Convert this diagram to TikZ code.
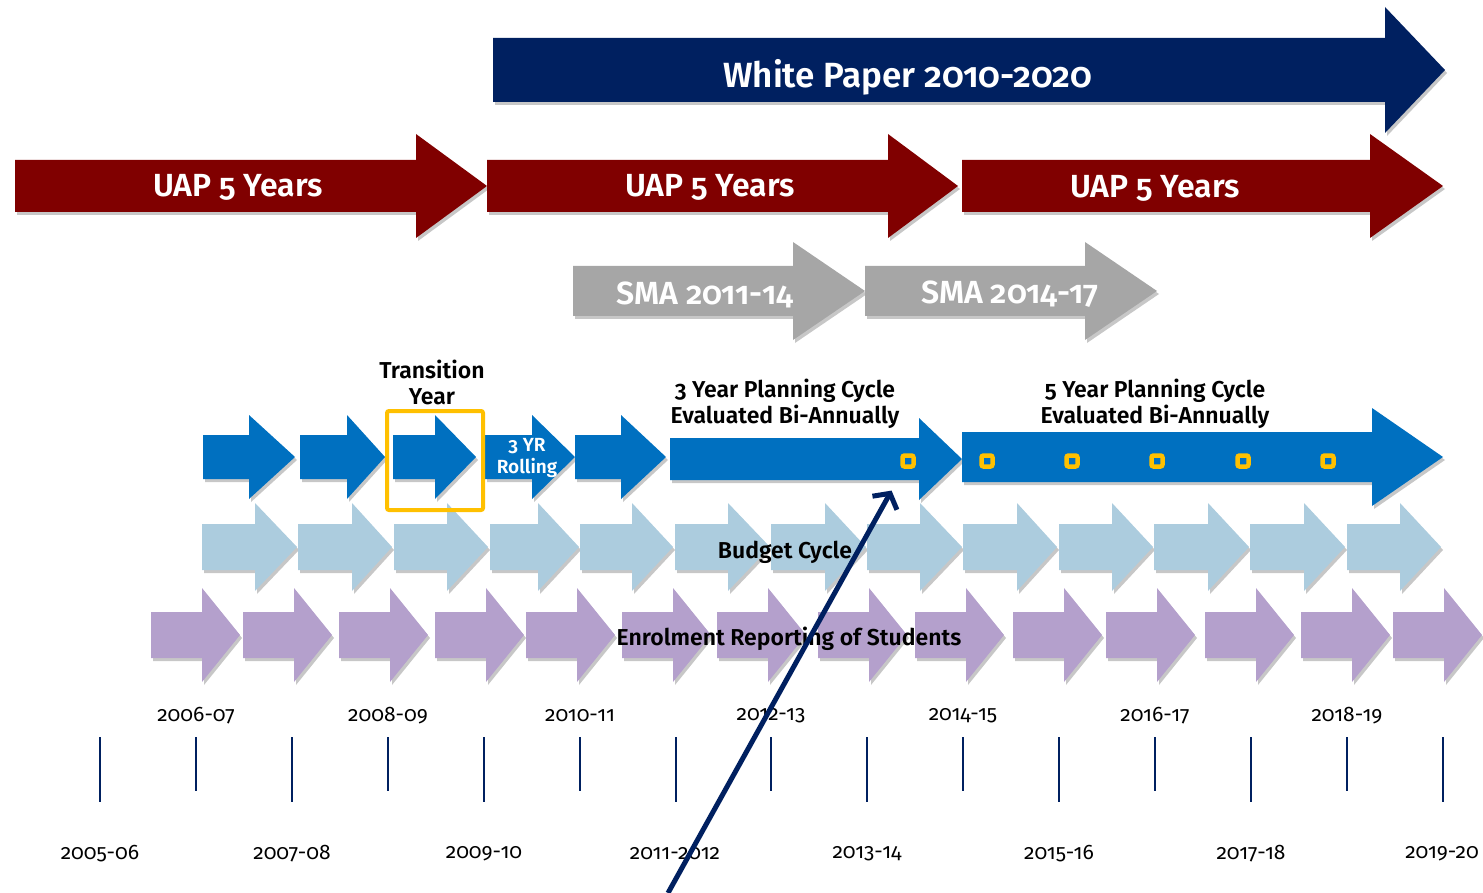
\documentclass[tikz,border=0pt]{standalone}
\usepackage{fontspec}
\setmainfont{Fira Sans}[Numbers=OldStyle, BoldFont={Fira Sans SemiBold}]
\usepackage{tikz}
\usetikzlibrary{shadows, arrows.meta}
\definecolor{navy}{RGB}{0,32,96}
\definecolor{uapred}{RGB}{128,0,0}
\definecolor{smagray}{RGB}{166,166,166}
\definecolor{planblue}{RGB}{0,112,192}
\definecolor{budgetblue}{RGB}{172,204,222}
\definecolor{enrolpurple}{RGB}{180,160,204}
\definecolor{markeryellow}{RGB}{255,192,0}
\tikzstyle{softshadow} = [drop shadow={shadow xshift=2pt, shadow yshift=-3pt, opacity=0.22, fill=black}]
\tikzstyle{whitepaper} = [fill=navy, softshadow]
\tikzstyle{uap} = [fill=uapred, softshadow]
\tikzstyle{sma} = [fill=smagray, softshadow]
\tikzstyle{plan} = [fill=planblue, softshadow]
\tikzstyle{budget} = [fill=budgetblue, softshadow]
\tikzstyle{enrol} = [fill=enrolpurple, softshadow]
\tikzstyle{arrowtext} = [text=white, font=\bfseries\fontsize{32}{36}\selectfont]
\tikzstyle{rowtext} = [text=black, font=\bfseries\fontsize{23}{26}\selectfont, align=center]
\tikzstyle{yeartext} = [text=black, font=\fontsize{21}{24}\selectfont]
\tikzstyle{tick} = [navy, line width=2.5pt]
\tikzstyle{markbox} = [draw=markeryellow, line width=4.5pt, rounded corners=2pt, minimum size=11pt, inner sep=0pt]
\tikzstyle{pointer} = [navy, line width=5pt, -{Straight Barb[length=11pt, width=28pt]}, shorten >=25pt]
% block arrow: style, left x, head base x, tip x, centre y, half shaft, half head
\newcommand{\barrow}[7]{\fill[#1] (#2,#5-#6) -- (#3,#5-#6) -- (#3,#5-#7) -- (#4,#5) -- (#3,#5+#7) -- (#3,#5+#6) -- (#2,#5+#6) -- cycle;}

\begin{document}
\begin{tikzpicture}[x=1pt, y=-1pt]
    \useasboundingbox (0,0) rectangle (1483,893);

    % white paper and UAP
    \barrow{whitepaper}{493}{1385}{1445}{70}{32}{63}
    \barrow{uap}{15}{416}{487}{186}{26}{52}
    \barrow{uap}{487}{888}{958}{186}{26}{52}
    \barrow{uap}{962}{1370}{1443}{186}{26}{52}
    \node (wp) [arrowtext, font=\bfseries\fontsize{35}{40}\selectfont] at (908,77) {White Paper 2010-2020};
    \node (uap1) [arrowtext] at (238,187) {UAP 5 Years};
    \node (uap2) [arrowtext] at (710,187) {UAP 5 Years};
    \node (uap3) [arrowtext] at (1155,188) {UAP 5 Years};

    % SMA
    \barrow{sma}{573}{793}{865}{291}{25}{49}
    \barrow{sma}{865}{1085}{1157}{291}{25}{49}
    \node (sma1) [arrowtext] at (705,295) {SMA 2011-14};
    \node (sma2) [arrowtext] at (1010,294) {SMA 2014-17};

    % budget and enrolment rows
    \foreach \x/\h/\t in {202/255/297, 298/352/392, 394/447/488, 490/538/579, 580/632/673, 675/728/770, 771/825/866, 867/920/962, 963/1017/1057, 1059/1112/1153, 1154/1208/1249, 1250/1304/1345, 1347/1400/1441}
        {\barrow{budget}{\x}{\h}{\t}{547}{23}{44}}
    \foreach \x in {151,243,339,435,526,622,717,818,915,1013,1106,1205,1301,1393}
        {\barrow{enrol}{\x}{\x+51}{\x+89}{635}{23}{47}}

    % planning row
    \foreach \x/\h/\t in {203/249/295, 300/347/385, 393/435/476, 485/532/575, 575/621/666}
        {\barrow{plan}{\x}{\h}{\t}{457}{22}{42}}
    \barrow{plan}{670}{919}{962}{459}{21}{41}
    \barrow{plan}{962}{1372}{1443}{457}{25}{49}

    \node (trans) [rowtext] at (432,382) {Transition\\Year};
    \node (roll) [rowtext, text=white, font=\bfseries\fontsize{19}{22}\selectfont] at (527,458) {3 YR\\Rolling};
    \node (plan3) [rowtext] at (785,404) {3 Year Planning Cycle\\Evaluated Bi-Annually};
    \node (plan5) [rowtext] at (1155,404) {5 Year Planning Cycle\\Evaluated Bi-Annually};
    \node (bud) [rowtext] at (785,552) {Budget Cycle};
    \node (enr) [rowtext] at (789,639) {Enrolment Reporting of Students};

    \foreach \x [count=\i] in {908,987,1072,1157,1243,1328}
        \node (sq\i) [markbox] at (\x,461) {};
    \node (transbox) [draw=markeryellow, line width=4pt, rounded corners=2pt, minimum width=96pt, minimum height=99pt] at (435,460.5) {};

    % years
    \foreach \x in {100,292,484,676,867,1059,1251,1443}
        \draw [tick] (\x,737) -- (\x,802);
    \foreach \x in {196,388,580,771,963,1155,1347}
        \draw [tick] (\x,737) -- (\x,791);
    \foreach \x/\yr [count=\i] in {196/2006-07, 388/2008-09, 580/2010-11, 771/2012-13, 963/2014-15, 1155/2016-17, 1347/2018-19}
        \node (up\i) [yeartext] at (\x,716) {\yr};
    \foreach \x/\yr [count=\i] in {100/2005-06, 292/2007-08, 484/2009-10, 675/2011-2012, 867/2013-14, 1059/2015-16, 1251/2017-18, 1442/2019-20}
        \node (low\i) [yeartext] at (\x,854) {\yr};

    \coordinate (ptrstart) at (668,893);
    \draw [pointer] (ptrstart) -- (sq1);

\end{tikzpicture}
\end{document}
